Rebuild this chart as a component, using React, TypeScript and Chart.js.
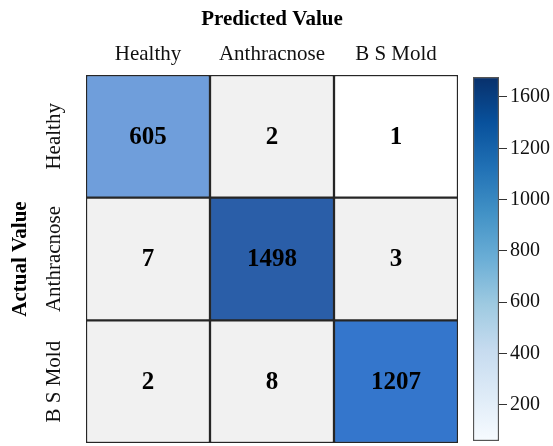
import React, { useEffect, useRef } from 'react';
import { Chart, registerables } from 'chart.js';

Chart.register(...registerables);

// Confusion matrix: rows = actual class, columns = predicted class
const predictedLabels = ['Healthy', 'Anthracnose', 'B S Mold'];
const actualLabels = ['Healthy', 'Anthracnose', 'B S Mold'];
const healthyRow = [605, 2, 1];
const anthracnoseRow = [7, 1498, 3];
const moldRow = [2, 8, 1207];

// Colour bar tick labels (evenly spaced along the bar)
const colorbarTickLabels = ['200', '400', '600', '800', '1000', '1200', '1600'];
// Extent of the colour bar in tick steps (first tick = 0)
const colorbarSpan = [-0.71, 6.39];

const rows = [healthyRow, anthracnoseRow, moldRow];

// Cell fills, row by row
const cellFills = [
  ['#6f9edb', '#f1f1f1', '#ffffff'],
  ['#f1f1f1', '#2a5ea8', '#f1f1f1'],
  ['#f1f1f1', '#f1f1f1', '#3476cc'],
];

// Matplotlib "Blues" stops, bottom to top
const bluesStops = ['#f7fbff', '#deebf7', '#c6dbef', '#9ecae1', '#6baed6', '#4292c6', '#2171b5', '#08519c', '#08306b'];

const FONT = "'Liberation Serif', 'Times New Roman', serif";

const cellValuePlugin = {
  id: 'cellValues',
  afterDatasetsDraw(chart: any) {
    const ctx = chart.ctx;
    ctx.save();
    ctx.font = `bold 25px ${FONT}`;
    ctx.fillStyle = '#000';
    ctx.textAlign = 'center';
    ctx.textBaseline = 'middle';
    chart.data.datasets.forEach((_ds: any, r: number) => {
      const meta = chart.getDatasetMeta(r);
      meta.data.forEach((el: any, c: number) => {
        const p = el.getCenterPoint();
        ctx.fillText(String(rows[r][c]), p.x, p.y + 1);
      });
    });
    ctx.restore();
  },
};

export default function App() {
  const mainRef = useRef<HTMLCanvasElement>(null);
  const barRef = useRef<HTMLCanvasElement>(null);

  useEffect(() => {
    Chart.defaults.font.family = FONT;
    Chart.defaults.color = '#111';

    const main = new Chart(mainRef.current!, {
      type: 'bar',
      data: {
        labels: predictedLabels,
        datasets: rows.map((row, r) => ({
          label: actualLabels[r],
          data: row.map(() => [r, r + 1]) as any,
          backgroundColor: cellFills[r],
          borderColor: '#262626',
          borderWidth: 1.5,
          borderSkipped: false,
          grouped: false,
          barPercentage: 1,
          categoryPercentage: 1,
        })),
      },
      options: {
        responsive: false,
        animation: false,
        events: [],
        layout: { padding: { top: 0, left: 0, right: 7, bottom: 3 } },
        plugins: { legend: { display: false }, tooltip: { enabled: false } },
        scales: {
          x: {
            type: 'category',
            position: 'top',
            offset: true,
            grid: { display: false },
            border: { display: false },
            ticks: { font: { size: 21 }, color: '#111', padding: 0 },
            title: {
              display: true,
              text: 'Predicted Value',
              color: '#000',
              font: { size: 21, weight: 'bold' },
              padding: { top: 6.5, bottom: 0 },
            },
            afterFit: (s: any) => {
              s.height = 75;
            },
          },
          y: {
            type: 'linear',
            position: 'left',
            min: 0,
            max: 3,
            reverse: true,
            grid: { display: false },
            border: { display: false },
            afterBuildTicks: (s: any) => {
              s.ticks = actualLabels.map((_l, i) => ({ value: i + 0.5 }));
            },
            ticks: {
              callback: (v: any) => actualLabels[Math.floor(Number(v))],
              minRotation: 90,
              maxRotation: 90,
              crossAlign: 'center',
              padding: -30,
              font: { size: 21 },
              color: '#111',
            },
            title: {
              display: true,
              text: 'Actual Value',
              color: '#000',
              font: { size: 21, weight: 'bold' },
              padding: { top: 7.5, bottom: 0 },
            },
            afterFit: (s: any) => {
              s.width = 86;
            },
          },
        },
      } as any,
      plugins: [cellValuePlugin],
    });

    const bar = new Chart(barRef.current!, {
      type: 'bar',
      data: {
        labels: [''],
        datasets: [
          {
            data: [colorbarSpan] as any,
            backgroundColor: (context: any) => {
              const area = context.chart.chartArea;
              if (!area) return bluesStops[4];
              const g = context.chart.ctx.createLinearGradient(0, area.bottom, 0, area.top);
              bluesStops.forEach((c, i) => g.addColorStop(i / (bluesStops.length - 1), c));
              return g;
            },
            borderColor: '#555',
            borderWidth: 1.5,
            borderSkipped: false,
            barPercentage: 1,
            categoryPercentage: 1,
          },
        ],
      },
      options: {
        responsive: false,
        animation: false,
        events: [],
        layout: { padding: { top: 77, left: 8, right: 0, bottom: 5 } },
        plugins: { legend: { display: false }, tooltip: { enabled: false } },
        scales: {
          x: { display: false, offset: true },
          y: {
            type: 'linear',
            position: 'right',
            min: colorbarSpan[0],
            max: colorbarSpan[1],
            border: { display: false },
            grid: { drawOnChartArea: false, drawTicks: true, tickLength: 8, color: '#333', lineWidth: 1 },
            afterBuildTicks: (s: any) => {
              s.ticks = colorbarTickLabels.map((_l, i) => ({ value: i }));
            },
            ticks: {
              callback: (_v: any, i: number) => colorbarTickLabels[i],
              font: { size: 20 },
              color: '#111',
              padding: 3,
            },
            afterFit: (s: any) => {
              s.width = 54;
              s.paddingTop = 0;
              s.paddingBottom = 0;
            },
          },
        },
      } as any,
    });

    return () => {
      main.destroy();
      bar.destroy();
    };
  }, []);

  return (
    <div style={{ position: 'fixed', left: 0, top: 0, width: 553, height: 446, background: '#fff' }}>
      <canvas ref={mainRef} width={465} height={446} style={{ position: 'absolute', left: 0, top: 0 }} />
      <canvas ref={barRef} width={88} height={446} style={{ position: 'absolute', left: 465, top: 0 }} />
    </div>
  );
}
